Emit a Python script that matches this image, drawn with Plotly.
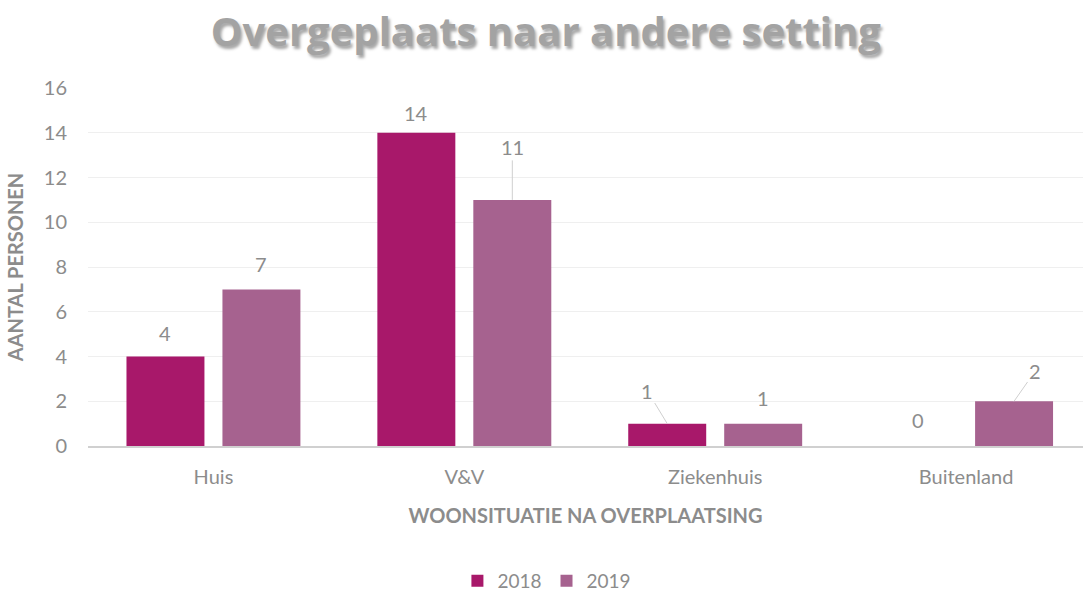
import plotly.graph_objects as go

categories = ["Huis", "V&V", "Ziekenhuis", "Buitenland"]
series_names = ["2018", "2019"]
values_2018 = [4, 14, 1, 0]
values_2019 = [7, 11, 1, 2]

# label offsets in pixels (style) relative to bar top, and whether a leader line is drawn
label_dx_2018 = [0, 0, -20, 0]
label_dy_2018 = [-24, -20, -33, -26]
leader_2018 = [False, False, True, False]
label_dx_2019 = [0, 0, 0, 21]
label_dy_2019 = [-25, -53, -26, -30]
leader_2019 = [False, True, False, True]

col_2018 = "#a8186a"
col_2019 = "#a6628f"
gray = "#8c8c8c"
FONT = "Lato"

BARGAP = 0.235
BARGROUPGAP = 0.1875

fig = go.Figure()
fig.add_trace(go.Bar(name=series_names[0], x=categories, y=values_2018,
                     marker=dict(color=col_2018, line=dict(width=0))))
fig.add_trace(go.Bar(name=series_names[1], x=categories, y=values_2019,
                     marker=dict(color=col_2019, line=dict(width=0))))

slot = (1 - BARGAP) / 2
annotations = []
for vals, dxs, dys, leads, sign in [
    (values_2018, label_dx_2018, label_dy_2018, leader_2018, -1),
    (values_2019, label_dx_2019, label_dy_2019, leader_2019, 1),
]:
    for i, v in enumerate(vals):
        annotations.append(dict(
            x=i + sign * slot / 2, y=v, xref="x", yref="y",
            text=str(v), showarrow=True, ax=dxs[i], ay=dys[i],
            arrowhead=0, arrowwidth=1, standoff=0,
            arrowcolor="#cfcfcf" if leads[i] else "rgba(0,0,0,0)",
            font=dict(family=FONT, size=20, color=gray),
        ))

fig.update_layout(
    width=1083, height=591,
    margin=dict(l=88, r=0, t=88, b=145, autoexpand=False),
    paper_bgcolor="white", plot_bgcolor="white",
    barmode="group", bargap=BARGAP, bargroupgap=BARGROUPGAP,
    title=dict(text="Overgeplaats naar andere setting",
               x=0.504, xanchor="center", xref="container",
               y=1 - 32 / 591, yanchor="middle", yref="container",
               font=dict(family="Open Sans", size=40, color="#a3a3a3", weight="bold",
                         shadow="2px 3px 3px rgba(0,0,0,0.35)")),
    font=dict(family=FONT, color=gray),
    showlegend=True,
    legend=dict(orientation="h", xref="container", x=0.505, xanchor="center",
                yref="container", y=10 / 591, yanchor="middle",
                font=dict(family=FONT, size=19, color=gray),
                traceorder="normal"),
    annotations=annotations,
)
fig.update_xaxes(
    range=[-0.5, 3.466], showgrid=False, showline=True, linecolor="#d0d0d0", linewidth=2,
    ticks="", tickfont=dict(family=FONT, size=20, color=gray), ticklabelstandoff=12,
    title=dict(text="WOONSITUATIE NA OVERPLAATSING", standoff=22,
               font=dict(family=FONT, size=20, color=gray, weight="bold")),
)
fig.update_yaxes(
    range=[0, 16], dtick=2, showgrid=True, gridcolor="#efefef", gridwidth=1,
    zeroline=False, showline=False, ticks="",
    tickfont=dict(family=FONT, size=20, color=gray), ticklabelstandoff=20,
    title=dict(text="AANTAL PERSONEN", standoff=14,
               font=dict(family=FONT, size=20, color=gray, weight="bold")),
)

fig.write_html("out.html", config={"displayModeBar": False},
               post_script="document.body.style.margin='0';")
